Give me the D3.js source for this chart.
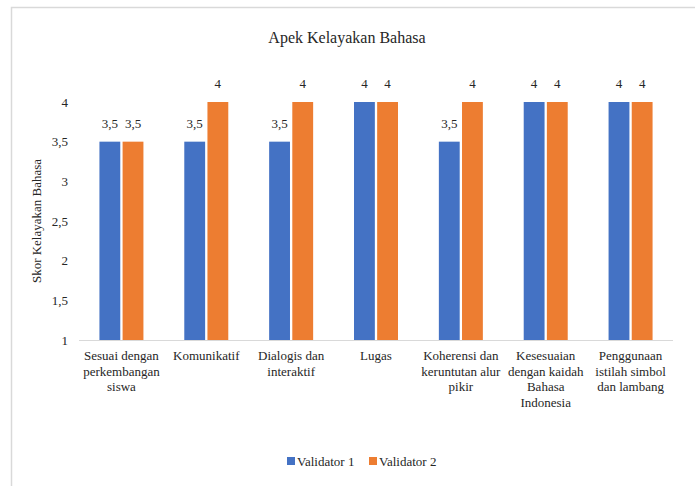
<!DOCTYPE html>
<html>
<head>
<meta charset="utf-8">
<script src="https://cdn.jsdelivr.net/npm/d3@7"></script>
<style>
body { margin: 0; background: #fff; }
</style>
</head>
<body>
<svg width="695" height="486"></svg>
<script>
// data
var categories = [
    ["Sesuai dengan", "perkembangan", "siswa"],
    ["Komunikatif"],
    ["Dialogis dan", "interaktif"],
    ["Lugas"],
    ["Koherensi dan", "keruntutan alur", "pikir"],
    ["Kesesuaian", "dengan kaidah", "Bahasa", "Indonesia"],
    ["Penggunaan", "istilah simbol", "dan lambang"]
];
var seriesNames = ["Validator 1", "Validator 2"];
var validator1 = [3.5, 3.5, 3.5, 4, 3.5, 4, 4];
var validator2 = [3.5, 4, 4, 4, 4, 4, 4];
var yTicks = [1, 1.5, 2, 2.5, 3, 3.5, 4];
var colors = ["#4472C4", "#ED7D31"];

var fontFamily = "'Times New Roman', Times, 'Liberation Serif', serif";

var svg = d3.select("svg");

// chart frame
svg.append("rect")
    .attr("x", 11.5).attr("y", 7.5)
    .attr("width", 700).attr("height", 500)
    .attr("fill", "none")
    .attr("stroke", "#d9d9d9")
    .attr("stroke-width", 1.5);

var plotLeft = 79, plotRight = 673, plotTop = 102, plotBottom = 340;

var x = d3.scaleBand()
    .domain(d3.range(categories.length))
    .range([plotLeft, plotRight]);

var x1 = d3.scaleBand()
    .domain([0, 1])
    .range([0, 44])
    .paddingInner(0.1);

var y = d3.scaleLinear()
    .domain([1, 4])
    .range([plotBottom, plotTop]);

var fmt = function(v) { return String(v).replace(".", ","); };

function label(sel, size) {
    return sel.attr("fill", "#262626")
        .style("font-family", fontFamily)
        .style("font-size", size + "px");
}

// title
label(svg.append("text"), 16)
    .attr("x", 347).attr("y", 43)
    .attr("text-anchor", "middle")
    .text("Apek Kelayakan Bahasa");

// y axis labels
label(svg.append("g").selectAll("text")
    .data(yTicks)
    .enter().append("text"), 13)
    .attr("x", 68)
    .attr("y", function(d) { return y(d) + 4.5; })
    .attr("text-anchor", "end")
    .text(fmt);

label(svg.append("text"), 13)
    .attr("transform", "translate(41," + ((plotTop + plotBottom) / 2) + ") rotate(-90)")
    .attr("text-anchor", "middle")
    .text("Skor Kelayakan Bahasa");

// bars
var data = categories.map(function(c, i) {
    return [validator1[i], validator2[i]];
});

var groups = svg.append("g").selectAll("g")
    .data(data)
    .enter().append("g")
    .attr("transform", function(d, i) {
        return "translate(" + (x(i) + x.bandwidth() / 2 - 22) + ",0)";
    });

groups.selectAll("rect")
    .data(function(d) { return d; })
    .enter().append("rect")
    .attr("x", function(d, j) { return x1(j); })
    .attr("y", function(d) { return y(d); })
    .attr("width", x1.bandwidth())
    .attr("height", function(d) { return plotBottom - y(d); })
    .attr("fill", function(d, j) { return colors[j]; });

label(groups.selectAll("text")
    .data(function(d) { return d; })
    .enter().append("text"), 13)
    .attr("x", function(d, j) { return x1(j) + x1.bandwidth() / 2; })
    .attr("y", function(d) { return y(d) - 14; })
    .attr("text-anchor", "middle")
    .text(fmt);

// x axis line
svg.append("line")
    .attr("x1", plotLeft).attr("x2", plotRight)
    .attr("y1", plotBottom + 0.5).attr("y2", plotBottom + 0.5)
    .attr("stroke", "#d9d9d9");

// category labels
var cat = label(svg.append("g").selectAll("text")
    .data(categories)
    .enter().append("text"), 13)
    .attr("x", function(d, i) { return x(i) + x.bandwidth() / 2; })
    .attr("y", 360)
    .attr("text-anchor", "middle");

cat.selectAll("tspan")
    .data(function(d) { return d; })
    .enter().append("tspan")
    .attr("x", function() { return d3.select(this.parentNode).attr("x"); })
    .attr("dy", function(d, k) { return k === 0 ? 0 : 15.5; })
    .text(function(d) { return d; });

// legend
var legendX = [287, 369];
var legend = svg.append("g").selectAll("g")
    .data(seriesNames)
    .enter().append("g")
    .attr("transform", function(d, i) { return "translate(" + legendX[i] + ",457)"; });

legend.append("rect")
    .attr("width", 8).attr("height", 8)
    .attr("fill", function(d, i) { return colors[i]; });

label(legend.append("text"), 13)
    .attr("x", 10).attr("y", 8.5)
    .text(function(d) { return d; });
</script>
</body>
</html>
